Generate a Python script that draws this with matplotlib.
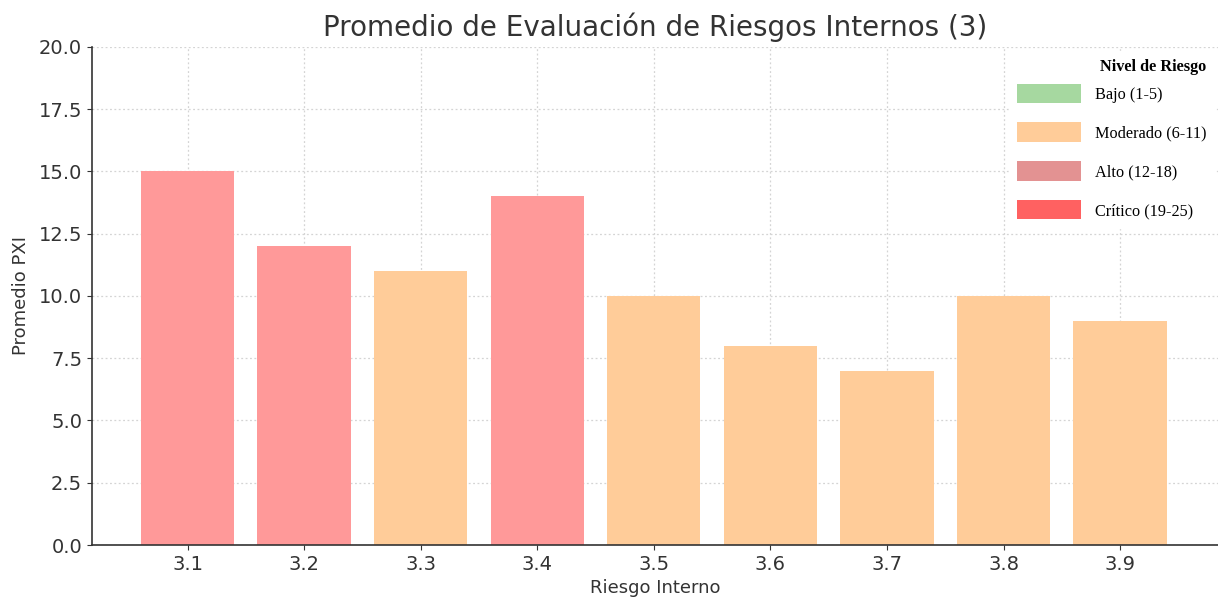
import matplotlib
matplotlib.use("Agg")
import matplotlib.pyplot as plt
from matplotlib.patches import Patch

riesgos = ["3.1", "3.2", "3.3", "3.4", "3.5", "3.6", "3.7", "3.8", "3.9"]
promedios = [15, 12, 11, 14, 10, 8, 7, 10, 9]
niveles = ["Bajo (1-5)", "Moderado (6-11)", "Alto (12-18)", "Crítico (19-25)"]
colores_nivel = ["#a6d8a0", "#ffcc99", "#e39292", "#ff6161"]
color_moderado = "#ffcc99"
color_alto = "#ff9999"

colores_barras = [color_alto if v >= 12 else color_moderado for v in promedios]

fig = plt.figure(figsize=(12.18, 5.97), dpi=100)
ax = fig.add_axes([0.0755, 0.0871, 0.9245, 0.8342])

x = list(range(len(riesgos)))
ax.bar(x, promedios, width=0.8, color=colores_barras, zorder=2)

ax.set_xticks(x)
ax.set_xticklabels(riesgos)
ax.set_xlim(-0.82, 8.84)
ax.set_ylim(0, 20)
ax.set_yticks([0, 2.5, 5, 7.5, 10, 12.5, 15, 17.5, 20])
ax.yaxis.set_major_formatter(matplotlib.ticker.FormatStrFormatter("%.1f"))
ax.tick_params(labelsize=14, colors="#333333", labelcolor="#333333")
ax.grid(True, linestyle=(0, (1.5, 2)), color="#d4d4d4", linewidth=0.9, zorder=0)
for s in ["top", "right"]:
    ax.spines[s].set_visible(False)
for s in ["left", "bottom"]:
    ax.spines[s].set_color("#333333")
    ax.spines[s].set_linewidth(1.2)

ax.set_title("Promedio de Evaluación de Riesgos Internos (3)", fontsize=20, color="#333333", pad=8)
ax.set_xlabel("Riesgo Interno", fontsize=13, color="#333333", labelpad=4)
ax.set_ylabel("Promedio PXI", fontsize=13, color="#333333", labelpad=6)

handles = [Patch(facecolor=c, edgecolor="none") for c in colores_nivel]
leg = ax.legend(handles, niveles, loc="upper right", bbox_to_anchor=(1.0, 0.998),
                prop={"family": "Liberation Serif", "size": 11.7},
                title="Nivel de Riesgo",
                title_fontproperties={"family": "Liberation Serif", "size": 11.7, "weight": "bold"},
                alignment="right",
                handlelength=3.9, handleheight=1.45, labelspacing=1.2, handletextpad=0.9,
                frameon=True, facecolor="white", edgecolor="white", framealpha=1.0,
                fancybox=False, borderpad=0.5, borderaxespad=0.2)
# tighter gap between the legend title and the first entry
leg._legend_box.sep = 6
leg.set_zorder(5)

fig.savefig("out.png", dpi=100)
